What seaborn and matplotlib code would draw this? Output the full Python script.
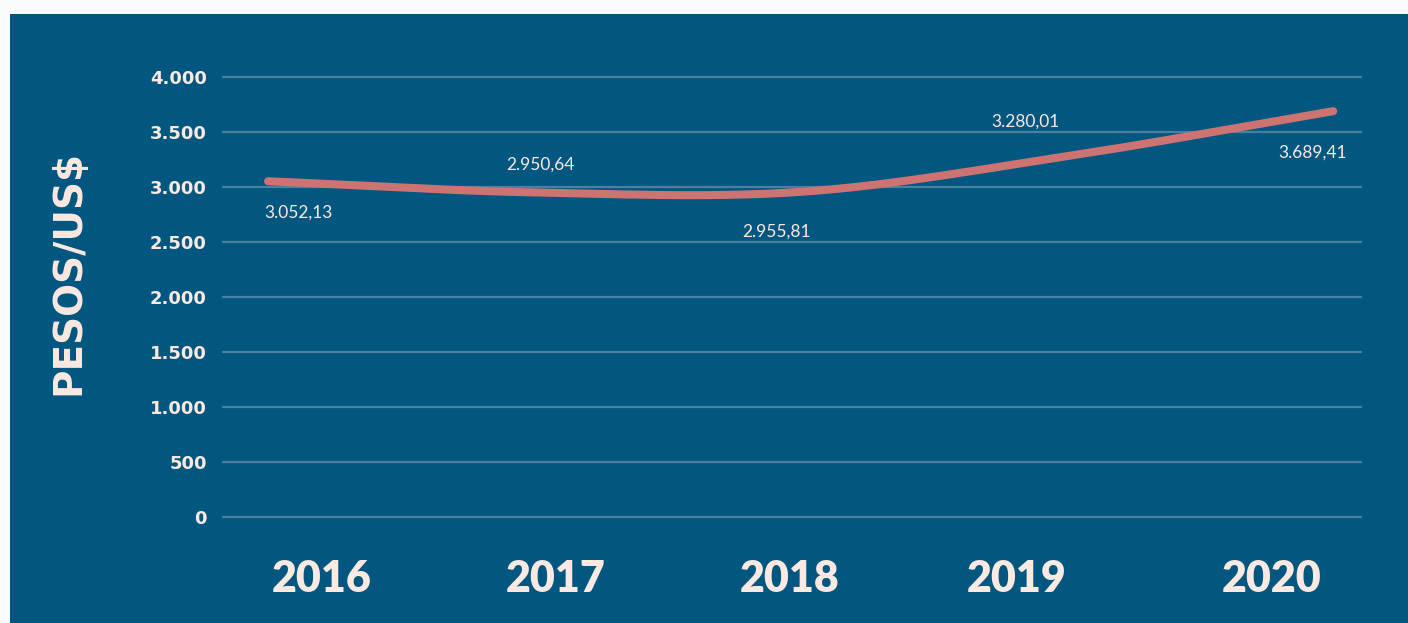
import numpy as np
import pandas as pd
import matplotlib
matplotlib.use("Agg")
import matplotlib.pyplot as plt
import seaborn as sns
from matplotlib.patches import Rectangle

years = ["2016", "2017", "2018", "2019", "2020"]
values = [3052.13, 2950.64, 2955.81, 3280.01, 3689.41]
value_labels = ["3.052,13", "2.950,64", "2.955,81", "3.280,01", "3.689,41"]
y_ticks = [0, 500, 1000, 1500, 2000, 2500, 3000, 3500, 4000]
y_tick_labels = ["0", "500", "1.000", "1.500", "2.000", "2.500", "3.000", "3.500", "4.000"]
# year label positions (in category units, labels are offset from line points)
year_label_pos = [0.20, 1.08, 1.96, 2.81, 3.77]
label_offsets_px = [(30, 31), (6, -28), (-24, 40), (-42, -35), (-21, 41)]

BG = "#01577F"
TXT = "#FCE9E1"
LINE = "#CD7372"
GRID = "#4C7FA1"

sns.set_theme(style="white")
plt.rcParams["font.family"] = ["Lato", "DejaVu Sans"]

W, H, DPI = 1408, 623, 100
fig = plt.figure(figsize=(W / DPI, H / DPI), dpi=DPI, facecolor="#FAFBFD")
fig.patches.append(Rectangle((10 / W, 0), 1 - 10 / W, 1 - 14 / H, transform=fig.transFigure,
                             facecolor=BG, edgecolor="none", zorder=-10))

left, right = 222 / W, 1362 / W
top_px, bot_px = 60.5, 533.5
ax = fig.add_axes([left, 1 - bot_px / H, right - left, (bot_px - top_px) / H])
ax.set_facecolor("none")
ax.patch.set_alpha(0)

# smooth curve (Catmull-Rom) through the data points for drawing
x = np.arange(len(values), dtype=float)
y = np.array(values)
m = np.zeros_like(y)
m[1:-1] = (y[2:] - y[:-2]) / 2
m[0] = y[1] - y[0]
m[-1] = y[-1] - y[-2]
xs, ys = [], []
for i in range(len(x) - 1):
    t = np.linspace(0, 1, 40)
    h00 = 2 * t**3 - 3 * t**2 + 1
    h10 = t**3 - 2 * t**2 + t
    h01 = -2 * t**3 + 3 * t**2
    h11 = t**3 - t**2
    xs.extend(x[i] + t)
    ys.extend(h00 * y[i] + h10 * m[i] + h01 * y[i + 1] + h11 * m[i + 1])
curve = pd.DataFrame({"x": xs, "y": ys})

for yt in y_ticks:
    ax.axhline(yt, color=GRID, lw=1.6, zorder=1)

sns.lineplot(data=curve, x="x", y="y", ax=ax, color=LINE, lw=5.8, zorder=3,
             solid_capstyle="round", sort=False)

for xi, yi, lab, (dx, dy) in zip(x, values, value_labels, label_offsets_px):
    ax.annotate(lab, (xi, yi), xytext=(dx * 0.72, -dy * 0.72), textcoords="offset points",
                ha="center", va="center", color=TXT, fontsize=12.5)

ax.set_xlim(-0.173, 4.108)
ax.set_ylim(-150, 4150)
ax.set_yticks(y_ticks)
ax.set_yticklabels(y_tick_labels, color=TXT, fontsize=13, fontweight="bold",
                   family=["DejaVu Sans"])
ax.set_xticks(year_label_pos)
ax.set_xticklabels(years, color=TXT, fontsize=31, fontweight="heavy")
ax.tick_params(axis="y", length=0, pad=11)
ax.tick_params(axis="x", length=0, pad=18)
ax.set_xlabel("")
ax.set_ylabel("")
fig.text(68 / W, 1 - 272 / H, "PESOS/US$", rotation=90, ha="center", va="center",
         color=TXT, fontsize=28, fontweight="bold", family=["DejaVu Sans"])
for s in ax.spines.values():
    s.set_visible(False)
ax.grid(False)

fig.savefig("out.png", dpi=DPI, facecolor=fig.get_facecolor())
